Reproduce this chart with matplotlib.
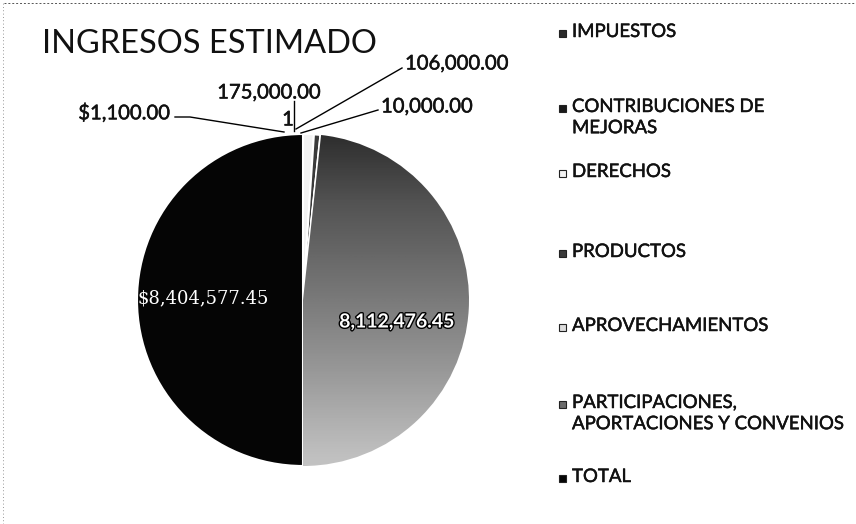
import numpy as np
import matplotlib.pyplot as plt
import matplotlib.patheffects as pe
from matplotlib.patches import Rectangle

plt.rcParams['font.family'] = ['Lato', 'DejaVu Sans']

# --- datos ---
categorias = ['IMPUESTOS', 'CONTRIBUCIONES DE\nMEJORAS', 'DERECHOS', 'PRODUCTOS',
              'APROVECHAMIENTOS', 'PARTICIPACIONES,\nAPORTACIONES Y CONVENIOS', 'TOTAL']
valores = [1100.00, 1, 175000.00, 106000.00, 10000.00, 8112476.45, 8404577.45]
etiquetas = ['$1,100.00', '1', '175,000.00', '106,000.00', '10,000.00',
             '8,112,476.45', '$8,404,577.45']
colores = ['#2a2a2a', '#1a1a1a', '#f2f2f2', '#3a3a3a', '#dcdcdc', '#6a6a6a', '#050505']

fig = plt.figure(figsize=(8.56, 5.24), dpi=100)
W, H = 856, 524
cx, cy, r = 303, 300, 166
ax = fig.add_axes([(cx - r) / W, (H - cy - r) / H, 2 * r / W, 2 * r / H])

wedges, _ = ax.pie(valores, colors=colores, startangle=90, counterclock=False,
                   radius=1, wedgeprops=dict(edgecolor='white', linewidth=1.5))

# degradado del sector de participaciones (oscuro arriba, claro abajo)
grad = np.linspace(0, 1, 256).reshape(-1, 1)
img = ax.imshow(grad, extent=[-1, 1, -1, 1], cmap='Greys_r', vmin=-0.3, vmax=1.7,
                origin='upper', aspect='auto', zorder=wedges[5].get_zorder() + 0.1)
img.set_clip_path(wedges[5])
ax.set_xlim(-1, 1)
ax.set_ylim(-1, 1)
ax.set_aspect('auto')
ax.axis('off')

grueso = [pe.withStroke(linewidth=0.35, foreground='#111111')]


def px(x, y):
    return ((x - cx) / r, (cy - y) / r)


# etiquetas externas con lineas guia (posiciones en pixeles de la imagen)
externas = [
    (0, (170, 113), 'right', [(175, 117), (190, 117), (284, 132)]),
    (1, (288, 120), 'center', None),
    (2, (269, 93), 'center', [(294, 101), (294, 131)]),
    (3, (405, 64), 'left', [(402, 68), (296, 129)]),
    (4, (381, 107), 'left', [(378, 110), (301, 133)]),
]
for i, pos, ha, linea in externas:
    ax.text(*px(*pos), etiquetas[i], ha=ha, va='center', fontsize=14.6,
            color='#111111', clip_on=False, path_effects=grueso)
    if linea:
        xs, ys = zip(*[px(*p) for p in linea])
        ax.plot(xs, ys, color='black', lw=1.0, clip_on=False)

ax.text(*px(203, 298), etiquetas[6], ha='center', va='center', fontsize=13,
        color='white', family=['DejaVu Serif'])
ax.text(*px(397, 322), etiquetas[5], ha='center', va='center', fontsize=14,
        color='white', fontweight='bold',
        path_effects=[pe.withStroke(linewidth=2, foreground='black')])

fig.text(42 / W, 1 - 44 / H, 'INGRESOS ESTIMADO', fontsize=23.4, ha='left',
         va='center', color='#111111')

# leyenda manual (y = centro de la primera linea)
ley_y = [33, 108, 173, 253, 327, 404, 478]
for cat, col, y in zip(categorias, colores, ley_y):
    fig.patches.append(Rectangle((559 / W, 1 - (y + 4) / H), 7 / W, 7 / H,
                                 transform=fig.transFigure, facecolor=col,
                                 edgecolor='#222222', lw=0.8))
    fig.text(572 / W, 1 - (y - 10) / H, cat, fontsize=13.4, ha='left', va='top',
             color='#111111', linespacing=1.3, path_effects=grueso)

# borde punteado del escaneo
fig.add_artist(plt.Line2D([0.005, 1], [0.994, 0.994], transform=fig.transFigure,
                          color='#555555', lw=0.7, ls=(0, (2, 2))))
fig.add_artist(plt.Line2D([0.003, 0.003], [0, 0.994], transform=fig.transFigure,
                          color='#777777', lw=0.6, ls=(0, (1, 3))))

fig.savefig('out.png', dpi=100)
